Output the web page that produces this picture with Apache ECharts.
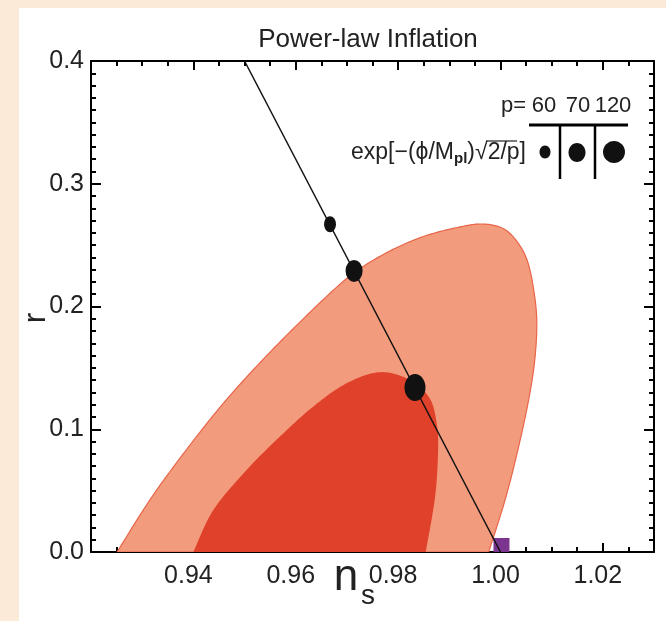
<!DOCTYPE html>
<html>
<head>
<meta charset="utf-8">
<script src="https://cdn.jsdelivr.net/npm/echarts@6/dist/echarts.min.js"></script>
<style>
  html, body { margin: 0; padding: 0; background: #FCEAD8; }
  #main { width: 666px; height: 621px; }
</style>
</head>
<body>
<div id="main"></div>
<script>
// 外层等值线 (浅色)
var outerNs = [0.9251, 0.9315, 0.9386, 0.9464, 0.9554, 0.9653, 0.9716, 0.9784, 0.9852, 0.9921, 0.9964, 1.0003, 1.0030, 1.0052, 1.0065, 1.0071, 1.0067, 1.0055, 1.0034, 1.0009, 0.9977];
var outerR  = [0.0000, 0.0424, 0.0831, 0.1238, 0.1646, 0.2053, 0.2281, 0.2452, 0.2574, 0.2648, 0.2672, 0.2640, 0.2542, 0.2379, 0.2134, 0.1874, 0.1564, 0.1238, 0.0831, 0.0424, 0.0000];
// 内层等值线 (深色)
var innerNs = [0.9400, 0.9439, 0.9504, 0.9569, 0.9634, 0.9699, 0.9765, 0.9823, 0.9862, 0.9876, 0.9878, 0.9872, 0.9854];
var innerR  = [0.0000, 0.0342, 0.0668, 0.0940, 0.1184, 0.1374, 0.1465, 0.1401, 0.1250, 0.1030, 0.0800, 0.0440, 0.0000];
// 幂律暴胀直线
var lineNs = [0.950, 1.000];
var lineR  = [0.400, 0.000];
// p = 60, 70, 120 的点
var pLabels = ['60', '70', '120'];
var pointNs = [0.9667, 0.9714, 0.9833];
var pointR  = [0.2670, 0.2290, 0.1340];
var pointSize = [[12, 16], [17, 22], [21, 27]];
// 紫色小方块
var hzNs = [1.0002];
var hzR  = [0.0057];

var FONT = "'Liberation Sans Narrow', 'Arial Narrow', 'Liberation Sans', Arial, sans-serif";

// Catmull-Rom 平滑 (只在像素坐标里插值绘制)
function catmullRom(pts, seg) {
  var out = [];
  var n = pts.length;
  for (var i = 0; i < n - 1; i++) {
    var p0 = pts[i - 1] || pts[i], p1 = pts[i], p2 = pts[i + 1], p3 = pts[i + 2] || pts[i + 1];
    for (var k = 0; k < seg; k++) {
      var t = k / seg, t2 = t * t, t3 = t2 * t;
      var q = [];
      for (var d = 0; d < 2; d++) {
        q[d] = 0.5 * (2 * p1[d] + (-p0[d] + p2[d]) * t +
          (2 * p0[d] - 5 * p1[d] + 4 * p2[d] - p3[d]) * t2 +
          (-p0[d] + 3 * p1[d] - 3 * p2[d] + p3[d]) * t3);
      }
      out.push(q);
    }
  }
  out.push(pts[n - 1]);
  return out;
}

function polygonSeries(xs, ys, fill, stroke, z) {
  return {
    type: 'custom',
    z: z,
    silent: true,
    clip: true,
    data: [[xs[0], ys[0]]],
    renderItem: function (params, api) {
      var pts = [];
      for (var i = 0; i < xs.length; i++) {
        pts.push(api.coord([xs[i], ys[i]]));
      }
      return {
        type: 'polygon',
        shape: { points: catmullRom(pts, 16) },
        style: { fill: fill, stroke: stroke || 'none', lineWidth: stroke ? 1.2 : 0 }
      };
    }
  };
}

var chart = echarts.init(document.getElementById('main'));

var xAxisBase = {
  type: 'value',
  min: 0.92,
  max: 1.03,
  interval: 0.02,
  splitLine: { show: false },
  axisLine: { onZero: false, lineStyle: { color: '#000', width: 2 } },
  axisTick: { inside: true, length: 9, lineStyle: { color: '#000', width: 2 } },
  minorTick: { show: true, splitNumber: 4, length: 5, lineStyle: { color: '#000', width: 2 } },
  minorSplitLine: { show: false }
};
var yAxisBase = {
  type: 'value',
  min: 0,
  max: 0.4,
  interval: 0.1,
  splitLine: { show: false },
  axisLine: { onZero: false, lineStyle: { color: '#000', width: 2 } },
  axisTick: { inside: true, length: 10, lineStyle: { color: '#000', width: 2 } },
  minorTick: { show: true, splitNumber: 10, length: 5, lineStyle: { color: '#000', width: 2 } },
  minorSplitLine: { show: false }
};

var lineData = lineNs.map(function (v, i) { return [v, lineR[i]]; });
var pointData = pointNs.map(function (v, i) {
  return { value: [v, pointR[i]], symbolSize: pointSize[i] };
});

chart.setOption({
  backgroundColor: '#FCEAD8',
  animation: false,
  title: {
    text: 'Power-law Inflation',
    left: 363,
    textAlign: 'center',
    top: 22,
    textStyle: { fontFamily: FONT, fontSize: 26, fontWeight: 'normal', color: '#222' }
  },
  grid: { left: 91, right: 12, top: 61, bottom: 69 },
  xAxis: [
    Object.assign({}, xAxisBase, {
      position: 'bottom',
      axisLabel: {
        margin: 12,
        padding: [0, 10, 0, 0],
        fontFamily: FONT, fontSize: 25, color: '#222',
        formatter: function (v) { return (v > 0.93 && v < 1.025) ? v.toFixed(2) : ''; }
      }
    }),
    Object.assign({}, xAxisBase, { position: 'top', axisLabel: { show: false } })
  ],
  yAxis: [
    Object.assign({}, yAxisBase, {
      position: 'left',
      axisLabel: {
        margin: 7,
        fontFamily: FONT, fontSize: 25, color: '#222',
        formatter: function (v) { return v.toFixed(1); }
      }
    }),
    Object.assign({}, yAxisBase, { position: 'right', axisLabel: { show: false } })
  ],
  graphic: [
    { type: 'rect', z: -100, shape: { x: 19, y: 8, width: 647, height: 613 }, style: { fill: '#fff' } },
    // 坐标轴名
    { type: 'text', x: 346, y: 600, style: { text: 'n', fontFamily: FONT, fontSize: 44, fill: '#222', textAlign: 'center', textVerticalAlign: 'bottom' } },
    { type: 'text', x: 368, y: 610, style: { text: 's', fontFamily: FONT, fontSize: 28, fill: '#222', textAlign: 'center', textVerticalAlign: 'bottom' } },
    { type: 'text', x: 36, y: 318, rotation: Math.PI / 2, style: { text: 'r', fontFamily: FONT, fontSize: 32, fill: '#222', textAlign: 'center', textVerticalAlign: 'middle' } },
    // 图例
    { type: 'text', x: 526, y: 117, style: { text: 'p=', fontFamily: FONT, fontSize: 22, fill: '#222', textAlign: 'right', textVerticalAlign: 'bottom' } },
    { type: 'text', x: 544, y: 117, style: { text: pLabels[0], fontFamily: FONT, fontSize: 22, fill: '#222', textAlign: 'center', textVerticalAlign: 'bottom' } },
    { type: 'text', x: 578, y: 117, style: { text: pLabels[1], fontFamily: FONT, fontSize: 22, fill: '#222', textAlign: 'center', textVerticalAlign: 'bottom' } },
    { type: 'text', x: 613, y: 117, style: { text: pLabels[2], fontFamily: FONT, fontSize: 22, fill: '#222', textAlign: 'center', textVerticalAlign: 'bottom' } },
    { type: 'line', shape: { x1: 529, y1: 125, x2: 628, y2: 125 }, style: { stroke: '#000', lineWidth: 3 } },
    { type: 'line', shape: { x1: 560, y1: 125, x2: 560, y2: 179 }, style: { stroke: '#000', lineWidth: 2.5 } },
    { type: 'line', shape: { x1: 595, y1: 125, x2: 595, y2: 179 }, style: { stroke: '#000', lineWidth: 2.5 } },
    { type: 'ellipse', shape: { cx: 545, cy: 152, rx: 5.5, ry: 6.5 }, style: { fill: '#111' } },
    { type: 'ellipse', shape: { cx: 577, cy: 152.5, rx: 8.5, ry: 9.5 }, style: { fill: '#111' } },
    { type: 'ellipse', shape: { cx: 614, cy: 152, rx: 11, ry: 11 }, style: { fill: '#111' } },
    {
      type: 'text', x: 526, y: 153,
      style: {
        text: 'exp[−(ϕ/M{sub|pl})√{ov|2/p}]',
        fontFamily: FONT, fontSize: 23, fill: '#222', textAlign: 'right', textVerticalAlign: 'middle',
        rich: {
          sub: { fontFamily: FONT, fontSize: 15, fontWeight: 'bold', fill: '#222', padding: [12, 0, 0, 0] },
          ov: { fontFamily: FONT, fontSize: 23, fill: '#222' }
        }
      }
    },
    { type: 'line', shape: { x1: 486, y1: 141, x2: 517, y2: 141 }, style: { stroke: '#222', lineWidth: 1.2 } }
  ],
  series: [
    polygonSeries(outerNs, outerR, '#F29B7D', '#E8654A', 1),
    polygonSeries(innerNs, innerR, '#E0412A', null, 2),
    {
      type: 'scatter',
      z: 3,
      symbol: 'rect',
      symbolSize: [16, 14],
      itemStyle: { color: '#7B358F', opacity: 1 },
      data: hzNs.map(function (v, i) { return [v, hzR[i]]; })
    },
    {
      type: 'line',
      z: 4,
      symbol: 'none',
      lineStyle: { color: '#111', width: 1.5 },
      data: lineData
    },
    {
      type: 'scatter',
      z: 5,
      symbol: 'circle',
      itemStyle: { color: '#111', opacity: 1 },
      data: pointData
    }
  ]
});
</script>
</body>
</html>
